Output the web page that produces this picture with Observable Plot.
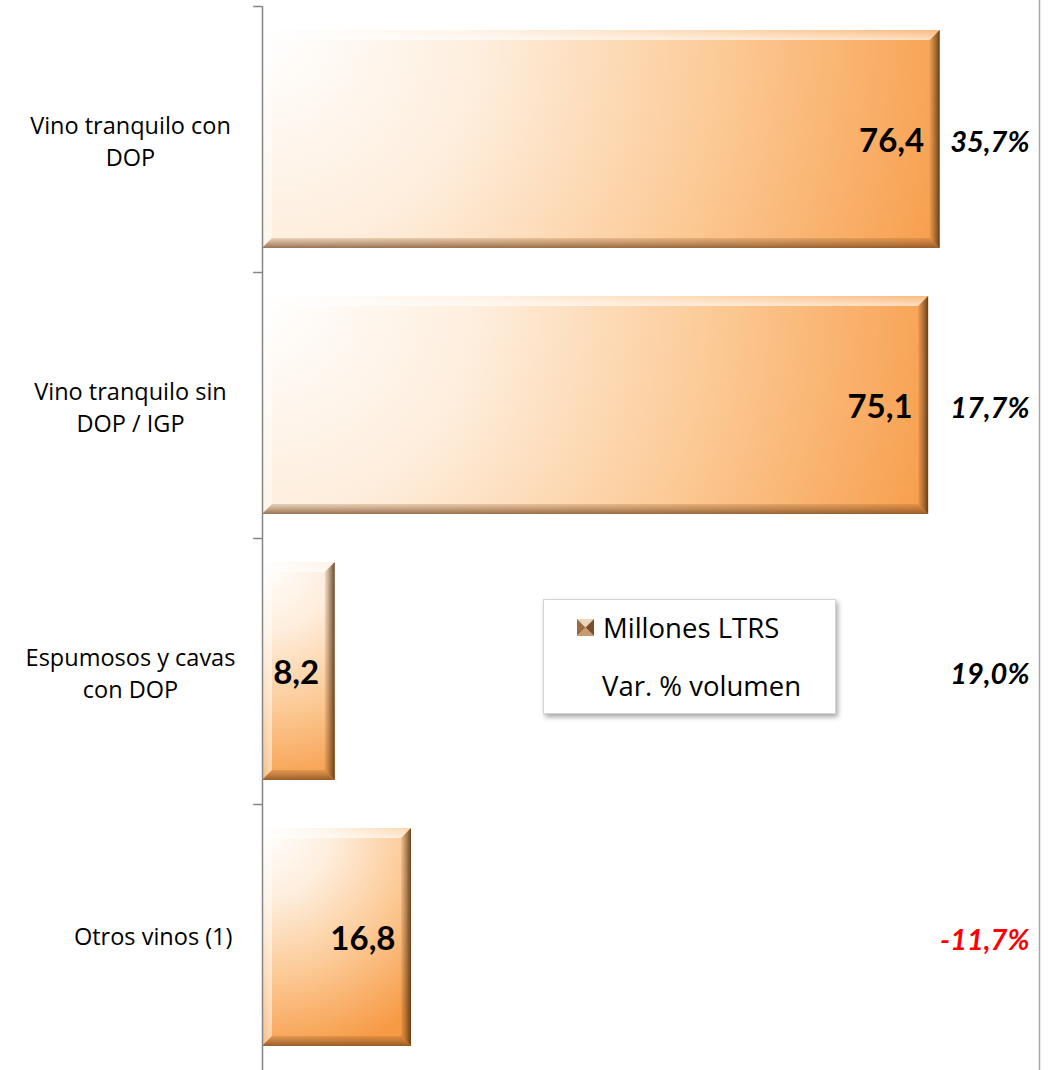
<!DOCTYPE html>
<html>
<head>
<meta charset="utf-8">
<script src="https://cdn.jsdelivr.net/npm/d3@7"></script>
<script src="https://cdn.jsdelivr.net/npm/@observablehq/plot@0.6"></script>
<style>
  body { margin: 0; background: #fff; font-family: "Open Sans", Lato, sans-serif; }
  #wrap { position: relative; width: 1056px; height: 1070px; }
  #legend { position: absolute; left: 543px; top: 599px; width: 291px; height: 113px;
    background: #fff; border: 1px solid #d4d4d4; box-shadow: 2px 3px 5px rgba(0,0,0,0.35);
    font-family: "Open Sans", Lato, sans-serif; font-size: 27.5px; color: #000; }
  .lg-item { position: absolute; display: flex; align-items: center; white-space: nowrap; }
</style>
</head>
<body>
<div id="wrap"></div>
<script>
// ---- data ----
const categories = ["Vino tranquilo con DOP", "Vino tranquilo sin DOP / IGP", "Espumosos y cavas con DOP", "Otros vinos (1)"];
const categoryLabels = ["Vino tranquilo con\nDOP", "Vino tranquilo sin\nDOP / IGP", "Espumosos y cavas\ncon DOP", "Otros vinos (1)"];
const volumes = [76.4, 75.1, 8.2, 16.8];          // Millones LTRS
const variations = [35.7, 17.7, 19.0, -11.7];     // Var. % volumen
const legendLabels = ["Millones LTRS", "Var. % volumen"];
const xMax = 87.6;

const rows = categories.map((c, i) => ({cat: c, label: categoryLabels[i], volume: volumes[i], variation: variations[i]}));
const fmt = v => d3.format(".1f")(v).replace(".", ",").replace("\u2212", "-");

const W = 1056, H = 1070, mTop = 6, mBottom = 0, mLeft = 262, mRight = 17;
const step = (H - mTop - mBottom) / categories.length;

const plot = Plot.plot({
  width: W, height: H,
  marginTop: mTop, marginBottom: mBottom, marginLeft: mLeft, marginRight: mRight,
  style: {fontFamily: "'Open Sans', Lato, sans-serif", background: "#fff", overflow: "visible"},
  x: {domain: [0, xMax], axis: null},
  y: {domain: categories, paddingInner: 0.18, paddingOuter: 0.09, axis: null},
  color: {type: "identity"},
  marks: [
    Plot.ruleX([xMax], {stroke: "#a6a6a6", strokeWidth: 1.5, insetTop: -mTop}),
    Plot.barX(rows, {x: "volume", y: "cat", fill: "#FCCB98"}),
    Plot.ruleX([0], {stroke: "#868686", strokeWidth: 1.5}),
    Plot.ruleY(rows, {y: "cat", x1: -1, x2: 0, dy: -step / 2, stroke: "#868686", strokeWidth: 1.5}),
    Plot.text(rows.filter(d => d.label.includes("\n")), {y: "cat", text: "label", frameAnchor: "left", textAnchor: "middle", dx: -132, fontSize: 23.5, lineHeight: 1.36, fill: "#000"}),
    Plot.text(rows.filter(d => !d.label.includes("\n")), {y: "cat", text: "label", frameAnchor: "left", textAnchor: "end", dx: -30, fontSize: 23.5, fill: "#000"}),
    Plot.text(rows, {x: "volume", y: "cat", text: d => fmt(d.volume), textAnchor: "end", dx: -16, dy: 2, fontSize: 33, fontWeight: "bold", fontFamily: "Lato, sans-serif", fill: "#000"}),
    Plot.text(rows, {y: "cat", text: d => fmt(d.variation) + "%", frameAnchor: "right", textAnchor: "end", dx: -10, dy: 3, fontSize: 29, fontWeight: "bold", fontStyle: "italic", fontFamily: "Lato, sans-serif", fill: d => d.variation < 0 ? "#FF0000" : "#000000"})
  ]
});

// gradients + bevels
const ns = "http://www.w3.org/2000/svg";
const svg = plot.tagName.toLowerCase() === "svg" ? plot : plot.querySelector("svg");
const defs = document.createElementNS(ns, "defs");
defs.innerHTML = `
  <linearGradient id="bevRight" x1="0" y1="0" x2="1" y2="0">
    <stop offset="0" stop-color="#7a4a1c" stop-opacity="0.1"/>
    <stop offset="1" stop-color="#4e2c0e" stop-opacity="0.85"/>
  </linearGradient>
  <linearGradient id="bevBottom" x1="0" y1="0" x2="0" y2="1">
    <stop offset="0" stop-color="#8a5424" stop-opacity="0.2"/>
    <stop offset="1" stop-color="#6e4018" stop-opacity="0.7"/>
  </linearGradient>
  <linearGradient id="bevTop" x1="0" y1="0" x2="0" y2="1">
    <stop offset="0" stop-color="#ffffff" stop-opacity="0.25"/>
    <stop offset="1" stop-color="#ffffff" stop-opacity="0.65"/>
  </linearGradient>
  <linearGradient id="bevLeft" x1="0" y1="0" x2="1" y2="0">
    <stop offset="0" stop-color="#ffffff" stop-opacity="0.25"/>
    <stop offset="1" stop-color="#ffffff" stop-opacity="0.55"/>
  </linearGradient>`;
svg.insertBefore(defs, svg.firstChild);

const barGroup = svg.querySelector('g[aria-label="bar"]');
const b = 10;
if (barGroup) {
  barGroup.querySelectorAll("rect").forEach((r, i) => {
    const x = +r.getAttribute("x"), y = +r.getAttribute("y"), w = +r.getAttribute("width"), h = +r.getAttribute("height");
    // per-bar radial face gradient from the top-left corner
    const g = document.createElementNS(ns, "radialGradient");
    g.setAttribute("id", "face" + i);
    g.setAttribute("gradientUnits", "userSpaceOnUse");
    g.setAttribute("cx", x); g.setAttribute("cy", y);
    g.setAttribute("fx", x); g.setAttribute("fy", y);
    g.setAttribute("r", 1.08 * Math.max(w, h));
    g.innerHTML = `<stop offset="0" stop-color="#FFFFFF"/>
      <stop offset="0.3" stop-color="#FEEEDD"/>
      <stop offset="0.62" stop-color="#FCCB98"/>
      <stop offset="1" stop-color="#F79A45"/>`;
    defs.appendChild(g);
    r.setAttribute("fill", `url(#face${i})`);
    const polys = [
      [[x, y], [x + w, y], [x + w - b, y + b], [x + b, y + b], "url(#bevTop)"],
      [[x, y], [x + b, y + b], [x + b, y + h - b], [x, y + h], "url(#bevLeft)"],
      [[x + w - b, y + b], [x + w, y], [x + w, y + h], [x + w - b, y + h - b], "url(#bevRight)"],
      [[x + b, y + h - b], [x + w - b, y + h - b], [x + w, y + h], [x, y + h], "url(#bevBottom)"]
    ];
    polys.forEach(p => {
      const el = document.createElementNS(ns, "polygon");
      el.setAttribute("points", p.slice(0, 4).map(q => q.join(",")).join(" "));
      el.setAttribute("fill", p[4]);
      barGroup.appendChild(el);
    });
  });
}

const wrap = document.getElementById("wrap");
wrap.appendChild(plot);

// legend (overlay inside the plot area, as in the original)
const legend = document.createElement("div");
legend.id = "legend";
legend.innerHTML = `
  <div class="lg-item" style="left:33px;top:9px;height:36px;">
    <svg width="17" height="17" style="margin-right:9px">
      <polygon points="0,0 17,0 8.5,8.5" fill="#ead5bd"/>
      <polygon points="0,17 17,17 8.5,8.5" fill="#c89a70"/>
      <polygon points="0,0 0,17 8.5,8.5" fill="#9a6a40"/>
      <polygon points="17,0 17,17 8.5,8.5" fill="#7a4e2a"/>
    </svg><span>${legendLabels[0]}</span></div>
  <div class="lg-item" style="left:58px;top:67px;height:36px;"><span>${legendLabels[1]}</span></div>`;
wrap.appendChild(legend);
</script>
</body>
</html>
